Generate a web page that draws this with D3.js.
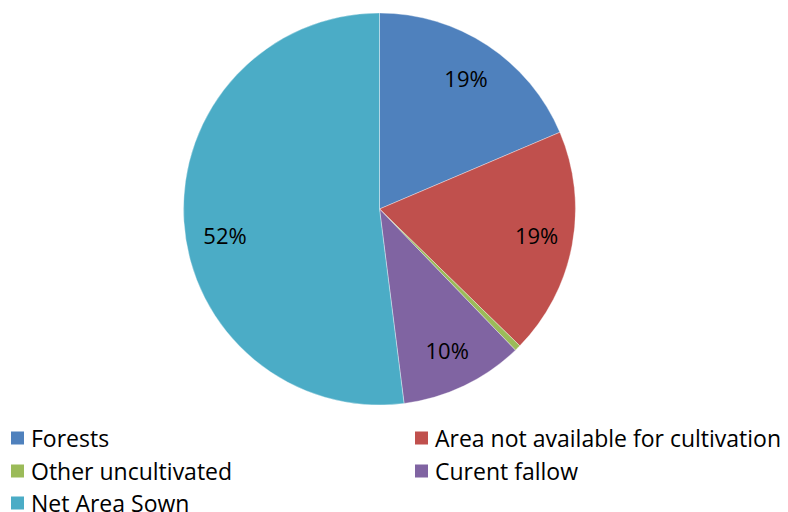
<!DOCTYPE html>
<html>
<head>
<meta charset="utf-8">
<script src="https://cdn.jsdelivr.net/npm/d3@7"></script>
<style>
  html, body { margin: 0; padding: 0; background: #fff; }
  svg { display: block; font-family: "Open Sans", Lato, sans-serif; }
</style>
</head>
<body>
<svg id="chart" width="788" height="512"></svg>
<script>
// Land-use shares (percent)
const categories = ["Forests", "Area not available for cultivation", "Other uncultivated", "Curent fallow", "Net Area Sown"];
const values = [18.6, 18.7, 0.5, 10.2, 52.0];
const labels = ["19%", "19%", "", "10%", "52%"];
const colors = ["#4F81BD", "#C0504D", "#9BBB59", "#8064A2", "#4BACC6"];

const svg = d3.select("#chart");
const cx = 379.5, cy = 209, radius = 196;

const data = categories.map((c, i) => ({ name: c, value: values[i], label: labels[i], color: colors[i] }));

const pie = d3.pie().sort(null).value(d => d.value);
const arc = d3.arc().innerRadius(0).outerRadius(radius);
const labelArc = d3.arc().innerRadius(radius * 0.8).outerRadius(radius * 0.8);

// small manual nudges for label placement
const labelNudge = { "Net Area Sown": [2, 16], "Area not available for cultivation": [3, -3] };

const g = svg.append("g").attr("transform", `translate(${cx},${cy})`);
const arcs = pie(data);

g.selectAll("path.slice")
  .data(arcs)
  .join("path")
  .attr("class", "slice")
  .attr("d", arc)
  .attr("fill", d => d.data.color)
  .attr("stroke", "#fff")
  .attr("stroke-width", 0.6)
  .attr("stroke-opacity", 0.6);

g.selectAll("text.pct")
  .data(arcs.filter(d => d.data.label))
  .join("text")
  .attr("class", "pct")
  .attr("transform", d => {
    const [x, y] = labelArc.centroid(d);
    const [nx, ny] = labelNudge[d.data.name] || [0, 0];
    return `translate(${x + nx},${y + ny})`;
  })
  .attr("text-anchor", "middle")
  .attr("dominant-baseline", "central")
  .attr("font-size", 22)
  .attr("fill", "#000")
  .text(d => d.data.label);

// Legend: two columns, filled left-to-right then down
const legend = svg.append("g");
const colX = [11, 415];
const rowY = [438, 471, 503];
const items = legend.selectAll("g.item")
  .data(data)
  .join("g")
  .attr("class", "item")
  .attr("transform", (d, i) => `translate(${colX[i % 2]},${rowY[Math.floor(i / 2)]})`);

items.append("rect")
  .attr("x", 0).attr("y", -6.5)
  .attr("width", 13).attr("height", 13)
  .attr("fill", d => d.color);

items.append("text")
  .attr("x", 20)
  .attr("y", 0)
  .attr("dominant-baseline", "central")
  .attr("font-size", 23)
  .attr("fill", "#000")
  .text(d => d.name);
</script>
</body>
</html>
